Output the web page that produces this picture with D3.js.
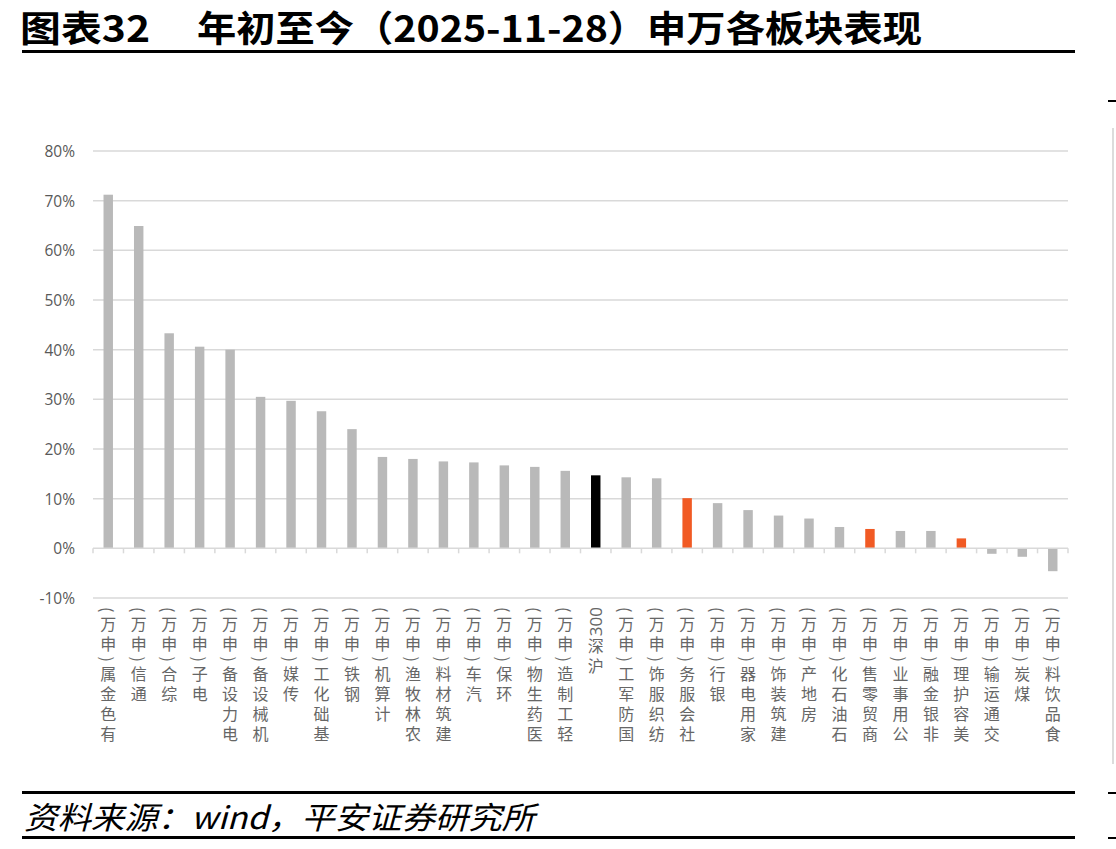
<!DOCTYPE html>
<html><head><meta charset="utf-8">
<script src="https://cdn.jsdelivr.net/npm/d3@7"></script>
<style>
html,body{margin:0;padding:0;background:#fff;}
svg{display:block;}
.vlab{writing-mode:vertical-rl;text-orientation:mixed;}
</style></head>
<body>
<svg id="chart" width="1116" height="849"></svg>
<script>
const categories = ["有色金属(申万)","通信(申万)","综合(申万)","电子(申万)","电力设备(申万)","机械设备(申万)","传媒(申万)","基础化工(申万)","钢铁(申万)","计算机(申万)","农林牧渔(申万)","建筑材料(申万)","汽车(申万)","环保(申万)","医药生物(申万)","轻工制造(申万)","沪深300","国防军工(申万)","纺织服饰(申万)","社会服务(申万)","银行(申万)","家用电器(申万)","建筑装饰(申万)","房地产(申万)","石油石化(申万)","商贸零售(申万)","公用事业(申万)","非银金融(申万)","美容护理(申万)","交通运输(申万)","煤炭(申万)","食品饮料(申万)"];
const values = [71.2,64.9,43.3,40.6,40.0,30.5,29.7,27.6,24.0,18.4,18.0,17.5,17.3,16.7,16.4,15.6,14.7,14.3,14.1,10.1,9.1,7.7,6.6,6.0,4.3,3.9,3.5,3.5,2.0,-1.1,-1.7,-4.6];
const highlight = ["沪深300","社会服务(申万)","商贸零售(申万)","美容护理(申万)"];
const highlightColors = ["#000000","#f15a24","#f15a24","#f15a24"];
const yTicks = [-10,0,10,20,30,40,50,60,70,80];
const titleLeft = "图表32";
const titleRight = "年初至今（2025-11-28）申万各板块表现";
const source = "资料来源：wind，平安证券研究所";

const svg = d3.select("#chart");
const x = d3.scaleBand().domain(categories).range([93,1068]).paddingInner(0.69).paddingOuter(0.345);
const y = d3.scaleLinear().domain([-10,80]).range([598,151]);

// title
svg.append("text").attr("x",20).attr("y",42).attr("font-family","'Noto Sans CJK SC'").attr("font-weight","bold")
  .attr("font-size",36).attr("fill","#000").attr("textLength",130).attr("lengthAdjust","spacingAndGlyphs").text(titleLeft);
svg.append("text").attr("x",197).attr("y",42).attr("font-family","'Noto Sans CJK SC'").attr("font-weight","bold")
  .attr("font-size",36).attr("fill","#000").attr("textLength",725).attr("lengthAdjust","spacingAndGlyphs").text(titleRight);
svg.append("rect").attr("x",22).attr("y",50).attr("width",1053).attr("height",3).attr("fill","#000");

// right edge fragments
svg.append("rect").attr("x",1108).attr("y",100).attr("width",8).attr("height",2).attr("fill","#000");
svg.append("rect").attr("x",1112).attr("y",128).attr("width",2).attr("height",636).attr("fill","#dcdcdc");
svg.append("rect").attr("x",1108).attr("y",792).attr("width",8).attr("height",2).attr("fill","#000");
svg.append("rect").attr("x",1108).attr("y",837).attr("width",8).attr("height",2).attr("fill","#000");

// gridlines
svg.append("g").selectAll("line").data(yTicks.filter(d=>d!==0)).join("line")
  .attr("x1",93).attr("x2",1068).attr("y1",d=>y(d)).attr("y2",d=>y(d))
  .attr("stroke","#d9d9d9").attr("stroke-width",1.5);

// y labels
svg.append("g").selectAll("text").data(yTicks).join("text")
  .attr("x",75).attr("y",d=>y(d)).attr("text-anchor","end").attr("dominant-baseline","central")
  .attr("font-family","'Open Sans'").attr("font-size",15.5).attr("fill","#595959")
  .text(d=>d+"%");

// bars
svg.append("g").selectAll("rect").data(categories).join("rect")
  .attr("x",d=>x(d)).attr("width",x.bandwidth())
  .attr("y",(d,i)=>y(Math.max(0,values[i])))
  .attr("height",(d,i)=>Math.abs(y(values[i])-y(0)))
  .attr("fill",d=>{const k=highlight.indexOf(d);return k>=0?highlightColors[k]:"#b9b9b9";});

// zero axis with ticks between categories
const axisG = svg.append("g");
axisG.append("line").attr("x1",93).attr("x2",1068).attr("y1",y(0)).attr("y2",y(0)).attr("stroke","#d9d9d9").attr("stroke-width",1.5);
axisG.selectAll("line.tk").data(d3.range(categories.length+1)).join("line").attr("class","tk")
  .attr("x1",i=>93+i*x.step()).attr("x2",i=>93+i*x.step())
  .attr("y1",y(0)).attr("y2",y(0)+5).attr("stroke","#d9d9d9").attr("stroke-width",1.5);

// category labels: stacked, reading bottom-to-top, upright CJK
const swapParen = ch => ch==="(" ? ")" : ch===")" ? "(" : ch;
const lblG = svg.append("g").attr("fill","#666");
const labelTop = 607;
categories.forEach(c=>{
  const cx = x(c)+x.bandwidth()/2;
  const m = c.match(/^(.*?)(\d+)$/);
  let cjkPart = c, topY = labelTop;
  if(m){
    // numeric tail drawn rotated, reading bottom-to-top
    const t = lblG.append("text").attr("transform",`translate(${cx},${labelTop}) rotate(-90)`)
      .attr("text-anchor","end").attr("dominant-baseline","central")
      .attr("font-family","'Open Sans'").attr("font-size",17).text(m[2]);
    const w = t.node().getComputedTextLength();
    cjkPart = m[1];
    topY = labelTop + w + 2;
  }
  const rev = Array.from(cjkPart).reverse().map(swapParen).join("");
  lblG.append("text").attr("class","vlab").attr("x",cx).attr("y",topY)
    .attr("font-family","'Noto Sans CJK SC'").attr("font-size",16).attr("letter-spacing",4)
    .text(rev);
});

// footer
svg.append("rect").attr("x",22).attr("y",791).attr("width",1053).attr("height",3).attr("fill","#000");
svg.append("text").attr("x",24).attr("y",829).attr("font-family","'Noto Sans CJK SC'").attr("font-style","italic")
  .attr("font-size",31).attr("fill","#000").attr("textLength",511).attr("lengthAdjust","spacingAndGlyphs").text(source);
svg.append("rect").attr("x",22).attr("y",836).attr("width",1053).attr("height",3).attr("fill","#000");
</script>
</body></html>
